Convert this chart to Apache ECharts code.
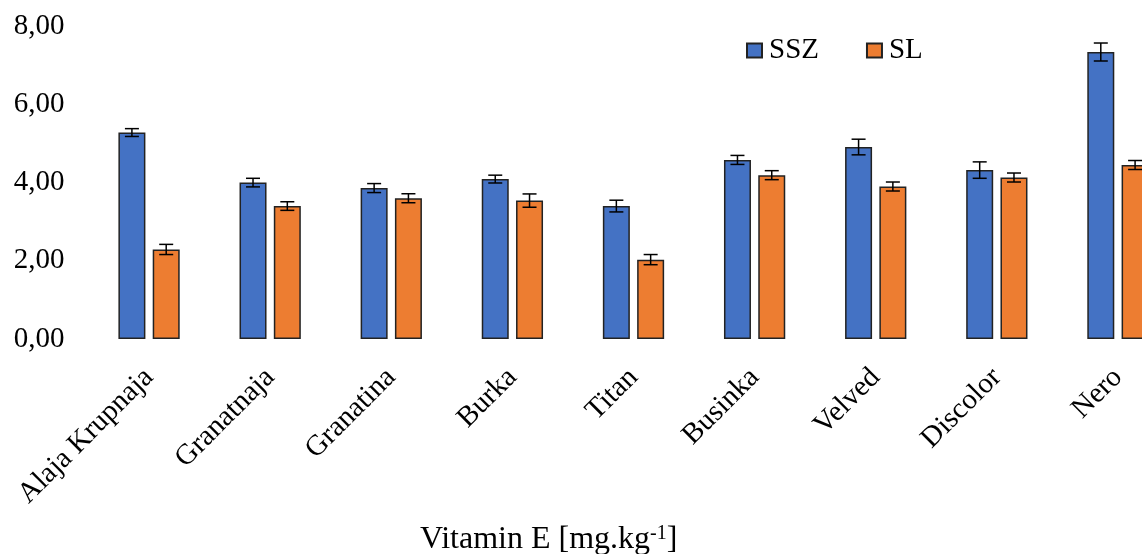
<!DOCTYPE html>
<html>
<head>
<meta charset="utf-8">
<script src="https://cdn.jsdelivr.net/npm/echarts@6/dist/echarts.min.js"></script>
<style>
  html, body { margin: 0; padding: 0; background: #ffffff; overflow: hidden; }
  /* the plot runs past the right edge of the window, so the last bar is clipped */
  #chart { width: 1180px; height: 554px; }
</style>
</head>
<body>
<div id="chart"></div>
<script>
// Vitamin E content per cultivar, two treatments, with standard deviations
const categories = ['Alaja Krupnaja', 'Granatnaja', 'Granatina', 'Burka', 'Titan', 'Businka', 'Velved', 'Discolor', 'Nero'];
const sszValues = [5.28, 4.00, 3.86, 4.09, 3.40, 4.58, 4.91, 4.32, 7.34];
const slValues  = [2.29, 3.40, 3.60, 3.54, 2.03, 4.19, 3.90, 4.13, 4.45];
const sszErrors = [0.10, 0.11, 0.115, 0.10, 0.15, 0.115, 0.20, 0.21, 0.23];
const slErrors  = [0.13, 0.11, 0.115, 0.17, 0.13, 0.115, 0.115, 0.115, 0.115];
const yTicks = { min: 0, max: 8, interval: 2 };

const FONT = '"Liberation Serif", "Times New Roman", serif';
const BAR_W = 27;
const BAR_GAP_RATIO = 0.27;
const HALF_STEP = (BAR_W + BAR_W * BAR_GAP_RATIO) / 2;

function errorSeries(name, values, errors, side) {
  return {
    type: 'custom',
    name: name + ' error',
    z: 5,
    silent: true,
    encode: { x: 0, y: 1 },
    data: values.map((v, i) => [i, v, errors[i]]),
    renderItem: function (params, api) {
      const idx = api.value(0), v = api.value(1), e = api.value(2);
      const top = api.coord([idx, v + e]);
      const bot = api.coord([idx, v - e]);
      const x = top[0] + side * HALF_STEP;
      const cap = 7;
      const st = { stroke: '#000000', lineWidth: 1.5 };
      return {
        type: 'group',
        children: [
          { type: 'line', shape: { x1: x, y1: top[1], x2: x, y2: bot[1] }, style: st },
          { type: 'line', shape: { x1: x - cap, y1: top[1], x2: x + cap, y2: top[1] }, style: st },
          { type: 'line', shape: { x1: x - cap, y1: bot[1], x2: x + cap, y2: bot[1] }, style: st }
        ]
      };
    }
  };
}

const chart = echarts.init(document.getElementById('chart'), null, { renderer: 'canvas' });
chart.setOption({
  animation: false,
  backgroundColor: '#ffffff',
  textStyle: { fontFamily: FONT, color: '#000000' },
  title: {
    text: 'Vitamin E [mg.kg{s|-1}]',
    left: 420,
    top: 524,
    padding: 0,
    textStyle: {
      fontFamily: FONT, fontSize: 32, fontWeight: 'normal', color: '#000000',
      rich: {
        s: { fontFamily: FONT, fontSize: 20, color: '#000000', verticalAlign: 'top', lineHeight: 20 }
      }
    }
  },
  legend: {
    data: ['SSZ', 'SL'],
    left: 746,
    top: 36,
    padding: 0,
    itemWidth: 15,
    itemHeight: 14,
    itemGap: 47,
    icon: 'rect',
    textStyle: { fontFamily: FONT, fontSize: 29, color: '#000000', padding: [0, 0, 0, 2] }
  },
  grid: { left: 88.5, top: 26.2, width: 1090, height: 312.8, containLabel: false },
  xAxis: {
    type: 'category',
    data: categories,
    axisLine: { show: false },
    axisTick: { show: false },
    axisLabel: { rotate: 45, margin: 34, fontFamily: FONT, fontSize: 29, color: '#000000', interval: 0 }
  },
  yAxis: {
    type: 'value',
    min: yTicks.min,
    max: yTicks.max,
    interval: yTicks.interval,
    axisLine: { show: false },
    axisTick: { show: false },
    splitLine: { show: false },
    axisLabel: {
      margin: 24, fontFamily: FONT, fontSize: 29, color: '#000000',
      formatter: v => v.toFixed(2).replace('.', ',')
    }
  },
  series: [
    {
      name: 'SSZ', type: 'bar', data: sszValues, barWidth: BAR_W, barGap: (BAR_GAP_RATIO * 100) + '%',
      itemStyle: { color: '#4472C4', borderColor: '#222222', borderWidth: 1.5 }
    },
    {
      name: 'SL', type: 'bar', data: slValues, barWidth: BAR_W, barGap: (BAR_GAP_RATIO * 100) + '%',
      itemStyle: { color: '#ED7D31', borderColor: '#222222', borderWidth: 1.5 }
    },
    errorSeries('SSZ', sszValues, sszErrors, -1),
    errorSeries('SL', slValues, slErrors, 1)
  ]
});
</script>
</body>
</html>
